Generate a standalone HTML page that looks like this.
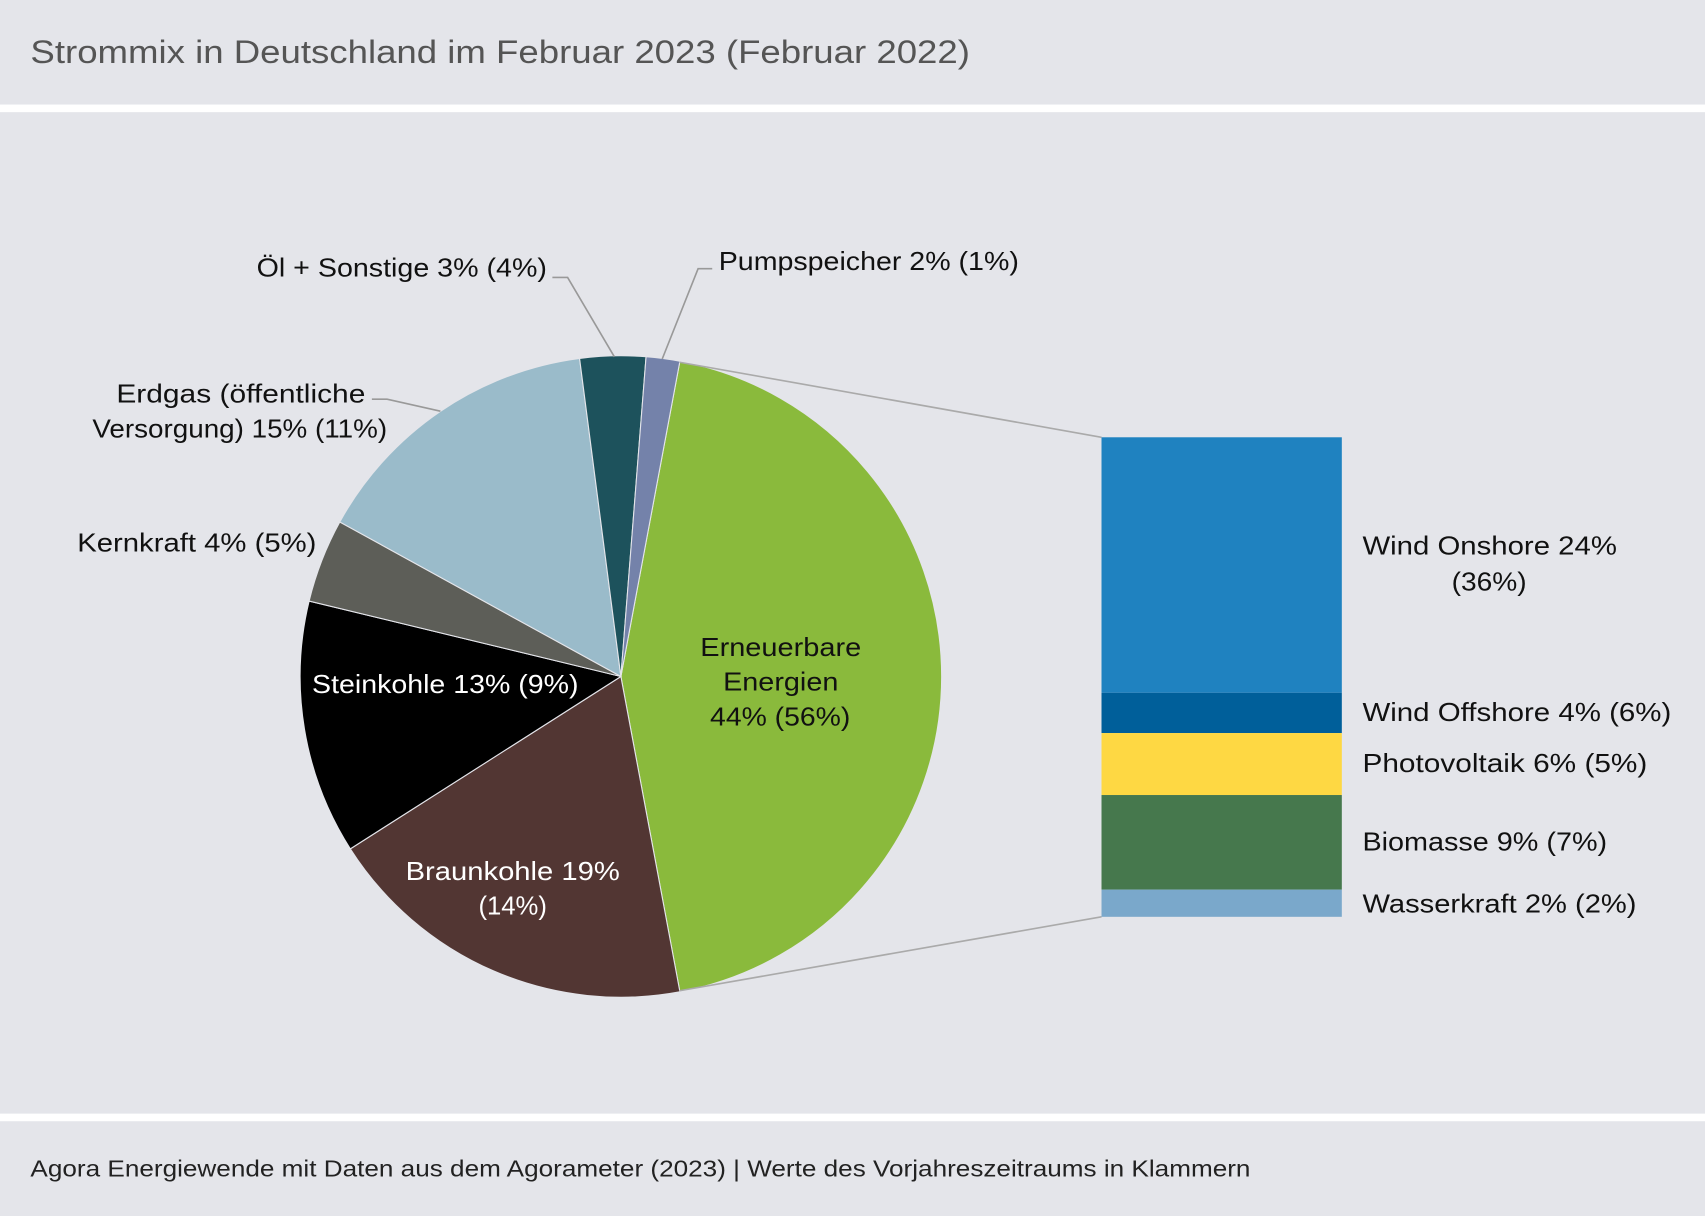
<!DOCTYPE html>
<html><head><meta charset="utf-8"><style>
html,body{margin:0;padding:0;background:#e4e5ea;}
svg{display:block;}
text{font-family:"Liberation Sans",sans-serif;}
</style></head><body>
<svg width="1705" height="1216" viewBox="0 0 1568 1118" xmlns="http://www.w3.org/2000/svg">
<rect width="1568" height="1118" fill="#e4e5ea"/>
<rect y="96" width="1568" height="7" fill="#fff"/>
<rect y="1024" width="1568" height="7" fill="#fff"/>
<text x="28" y="58" font-size="30" fill="#555" textLength="864" lengthAdjust="spacingAndGlyphs">Strommix in Deutschland im Februar 2023 (Februar 2022)</text>
<text x="28" y="1082" font-size="21" fill="#222" textLength="1122" lengthAdjust="spacingAndGlyphs">Agora Energiewende mit Daten aus dem Agorameter (2023) | Werte des Vorjahreszeitraums in Klammern</text>
<g id="pie"></g>
<line x1="625" y1="333" x2="1013" y2="402" stroke="#aaa" stroke-width="1.5"/>
<line x1="625" y1="911" x2="1013" y2="843" stroke="#aaa" stroke-width="1.5"/>
<rect x="1013" y="402" width="221" height="235" fill="#1f82c0"/>
<rect x="1013" y="637" width="221" height="37" fill="#005f9a"/>
<rect x="1013" y="674" width="221" height="57" fill="#fed843"/>
<rect x="1013" y="731" width="221" height="87" fill="#46784d"/>
<rect x="1013" y="818" width="221" height="25" fill="#7aa8cb"/>
<g font-size="24" fill="#111" lengthAdjust="spacingAndGlyphs">
<text x="1253" y="510" textLength="234" lengthAdjust="spacingAndGlyphs">Wind Onshore 24%</text>
<text x="1335" y="543" textLength="69" lengthAdjust="spacingAndGlyphs">(36%)</text>
<text x="1253" y="663" textLength="284" lengthAdjust="spacingAndGlyphs">Wind Offshore 4% (6%)</text>
<text x="1253" y="710" textLength="262" lengthAdjust="spacingAndGlyphs">Photovoltaik 6% (5%)</text>
<text x="1253" y="782" textLength="225" lengthAdjust="spacingAndGlyphs">Biomasse 9% (7%)</text>
<text x="1253" y="839" textLength="252" lengthAdjust="spacingAndGlyphs">Wasserkraft 2% (2%)</text>
<text x="236" y="254" textLength="267" lengthAdjust="spacingAndGlyphs">Öl + Sonstige 3% (4%)</text>
<text x="661" y="248" textLength="276" lengthAdjust="spacingAndGlyphs">Pumpspeicher 2% (1%)</text>
<text x="107" y="370" textLength="229" lengthAdjust="spacingAndGlyphs">Erdgas (öffentliche</text>
<text x="85" y="402" textLength="271" lengthAdjust="spacingAndGlyphs">Versorgung) 15% (11%)</text>
<text x="71" y="507" textLength="220" lengthAdjust="spacingAndGlyphs">Kernkraft 4% (5%)</text>
<text x="644" y="603" textLength="148" lengthAdjust="spacingAndGlyphs">Erneuerbare</text>
<text x="665" y="635" textLength="106" lengthAdjust="spacingAndGlyphs">Energien</text>
<text x="653" y="667" textLength="129" lengthAdjust="spacingAndGlyphs">44% (56%)</text>
<text x="287" y="637" fill="#fff" textLength="245" lengthAdjust="spacingAndGlyphs">Steinkohle 13% (9%)</text>
<text x="373" y="809" fill="#fff" textLength="197" lengthAdjust="spacingAndGlyphs">Braunkohle 19%</text>
<text x="440" y="841" fill="#fff" textLength="63" lengthAdjust="spacingAndGlyphs">(14%)</text>
</g>
<g fill="none" stroke="#999" stroke-width="1.5">
<polyline points="508,255 522,255 565,328"/>
<polyline points="655,247 642,247 609,330"/>
<polyline points="342,367 356,367 405,378"/>
</g>
</svg>
<script>
(function(){
var cx=571,cy=622,r=295;
var s=[[10.6,169.4,"#8aba3c"],[169.4,237.5,"#523633"],[237.5,283.6,"#000000"],[283.6,298.8,"#5d5e58"],[298.8,352.6,"#9abbca"],[352.6,364.5,"#1d525c"],[364.5,370.6,"#7482aa"]];
var g=document.getElementById("pie"),ns="http://www.w3.org/2000/svg";
function pt(a){a=a*Math.PI/180;return [cx+r*Math.sin(a),cy-r*Math.cos(a)];}
s.forEach(function(d){var p1=pt(d[0]),p2=pt(d[1]),large=(d[1]-d[0])>180?1:0;
var p=document.createElementNS(ns,"path");
p.setAttribute("d","M"+cx+","+cy+"L"+p1[0]+","+p1[1]+"A"+r+","+r+" 0 "+large+" 1 "+p2[0]+","+p2[1]+"Z");
p.setAttribute("fill",d[2]);p.setAttribute("stroke","#e4e5ea");p.setAttribute("stroke-width","1");g.appendChild(p);});
})();
</script>
</body></html>
